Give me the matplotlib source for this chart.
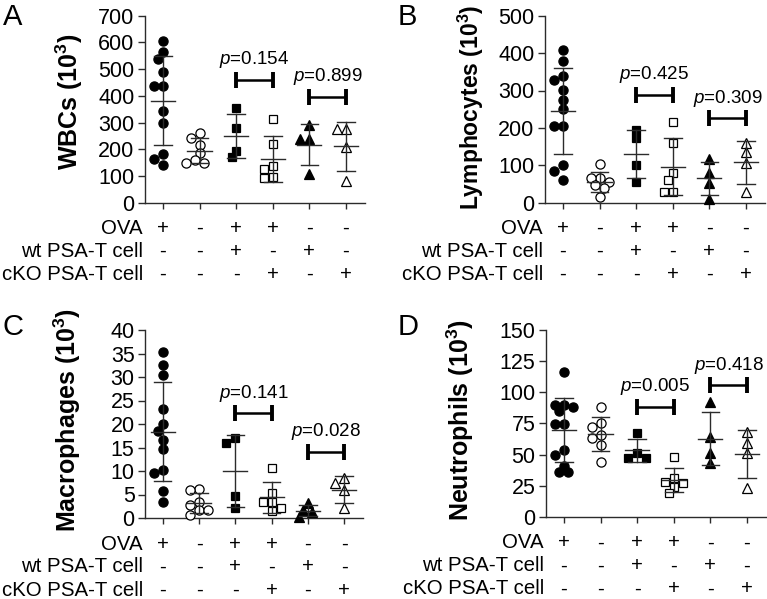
import numpy as np
import matplotlib
matplotlib.use("Agg")
import matplotlib.pyplot as plt

plt.rcParams['font.family'] = ['Liberation Sans', 'DejaVu Sans']
plt.rcParams['mathtext.fontset'] = 'custom'
plt.rcParams['mathtext.rm'] = 'Liberation Sans'
plt.rcParams['mathtext.it'] = 'Liberation Sans:italic'
plt.rcParams['mathtext.bf'] = 'Liberation Sans:bold'

# ---------------- data ----------------
wbc = [
    [604, 564, 537, 489, 437, 437, 345, 300, 183, 164, 141],
    [262, 241, 216, 185, 160, 150, 150],
    [354, 279, 195, 170],
    [313, 219, 138, 126, 95, 92],
    [289, 238, 238, 106],
    [276, 276, 210, 81],
]
lymph = [
    [408, 379, 339, 328, 301, 275, 250, 205, 205, 101, 86, 62],
    [103, 65, 65, 55, 47, 38, 16],
    [194, 172, 101, 56],
    [217, 160, 79, 61, 29, 29],
    [116, 80, 54, 9],
    [160, 136, 107, 29],
]
macro = [
    [35.4, 32.6, 30.4, 23.1, 20.1, 18.5, 16.6, 14.6, 10.2, 9.6, 5.7, 3.4],
    [6.2, 5.9, 3.5, 2.8, 1.7, 1.7, 0.6],
    [17.0, 16.0, 4.7, 2.1],
    [10.7, 5.3, 3.3, 3.3, 2.2, 1.5],
    [3.1, 1.7, 1.3, 0.2],
    [8.6, 7.4, 6.0, 2.1],
]
neut = [
    [116, 90, 90, 88, 85, 74.5, 74.5, 53.6, 50, 41, 36, 36],
    [88, 75, 72, 66, 63, 58, 44],
    [67, 51, 47.5, 47.5],
    [48, 31, 28, 27, 24, 19],
    [92, 64, 51, 43.5],
    [68, 59, 51, 23],
]

pvals = {'A': [0.154, 0.899], 'B': [0.425, 0.309], 'C': [0.141, 0.028], 'D': [0.005, 0.418]}
pbar_y = {'A': [460, 397], 'B': [288, 226], 'C': [22.3, 14.1], 'D': [88.4, 105.8]}
pbar_pairs = [(2, 3), (4, 5)]

row_names = ['OVA', 'wt PSA-T cell', 'cKO PSA-T cell']
row_ova = ['+', '-', '+', '+', '-', '-']
row_wt = ['-', '-', '+', '-', '+', '-']
row_cko = ['-', '-', '-', '+', '-', '+']

ylabels = {'A': 'WBCs', 'B': 'Lymphocytes', 'C': 'Macrophages', 'D': 'Neutrophils'}
ylims = {'A': 700, 'B': 500, 'C': 40, 'D': 150}
ysteps = {'A': 100, 'B': 100, 'C': 5, 'D': 25}
panel_data = {'A': wbc, 'B': lymph, 'C': macro, 'D': neut}

# ---------------- styling / layout ----------------
W, H = 767, 599
fig = plt.figure(figsize=(W / 100, H / 100), dpi=100)

# axes boxes in pixels: left, right, top(y of max), bottom(y of 0)
boxes = {'A': (145, 365, 15.7, 202.7), 'B': (545, 765, 15.7, 202.7),
         'C': (145, 363, 330, 518), 'D': (546, 766, 330, 516.8)}
ylabel_pos = {'A': (69, 102), 'B': (471, 107), 'C': (67, 420), 'D': (460, 420)}
ylabel_fs = {'A': 18, 'B': 16.5, 'C': 18, 'D': 18}
letter_pos = {'A': (3, 3), 'B': (398, 3), 'C': (2, 313), 'D': (398, 313)}

styles = [('o', 'black'), ('o', 'white'), ('s', 'black'), ('s', 'white'), ('^', 'black'), ('^', 'white')]
msizes = [6.6, 6.6, 6.0, 6.0, 6.8, 6.8]
axcol = '#2b2b2b'
FS_TICK = 15.5
FS_ROW = 14.7
DPX = 9.0


def swarm_x(ax, x0, vals, dpx):
    tr = ax.transData
    inv = tr.inverted()
    placed = []
    xs = []
    order = [0]
    for k in range(1, 8):
        order += [-k, k]
    step = dpx * 0.5
    for v in vals:
        px0, py = tr.transform((x0, v))
        px = px0
        for k in order:
            cand = px0 + k * step
            if all((cand - qx) ** 2 + (py - qy) ** 2 >= (dpx * 0.85) ** 2 for qx, qy in placed):
                px = cand
                break
        placed.append((px, py))
        xs.append(inv.transform((px, py))[0])
    return xs


for key in ['A', 'B', 'C', 'D']:
    l, r, t, b = boxes[key]
    ax = fig.add_axes([l / W, 1 - b / H, (r - l) / W, (b - t) / H])
    ax.set_xlim(-0.49, 5.52)
    ax.set_ylim(0, ylims[key])
    ax.set_yticks(np.arange(0, ylims[key] + 0.001, ysteps[key]))
    ax.set_xticks(range(6))
    ax.set_xticklabels([])
    for s in ['top', 'right']:
        ax.spines[s].set_visible(False)
    for s in ['left', 'bottom']:
        ax.spines[s].set_color(axcol)
        ax.spines[s].set_linewidth(1.0)
    ax.tick_params(axis='y', length=5, width=1.0, color=axcol, labelsize=FS_TICK, pad=2.5)
    ax.tick_params(axis='x', length=4.5, width=1.0, color=axcol)
    ax.patch.set_alpha(0)

    data = panel_data[key]
    for i, vals in enumerate(data):
        arr = np.array(vals, dtype=float)
        m = arr.mean()
        sd = arr.std(ddof=1)
        # error bars (mean +/- SD), drawn over the markers
        ax.plot([i, i], [m - sd, m + sd], color=axcol, lw=1.0, zorder=5)
        ax.plot([i - 0.24, i + 0.24], [m + sd, m + sd], color=axcol, lw=1.0, zorder=5)
        ax.plot([i - 0.24, i + 0.24], [m - sd, m - sd], color=axcol, lw=1.0, zorder=5)
        ax.plot([i - 0.33, i + 0.33], [m, m], color=axcol, lw=1.0, zorder=5)
        xs = swarm_x(ax, i, vals, DPX)
        mk, fc = styles[i]
        ax.plot(xs, vals, ls='', marker=mk, ms=msizes[i], mfc=fc, mec='black',
                mew=0.9, zorder=4, clip_on=False)

    # p-value brackets
    for (a, bb), yv, pv in zip(pbar_pairs, pbar_y[key], pvals[key]):
        ax.plot([a, bb], [yv, yv], color='black', lw=1.8, zorder=6, solid_capstyle='butt')
        ax.plot([a, bb], [yv, yv], ls='', marker='|', ms=12, mew=2.8, color='black', zorder=6)
        ax.annotate(r'$\it{p}$=%.3f' % pv, xy=((a + bb) / 2, yv), xytext=(0, 20),
                    textcoords='offset pixels', ha='center', va='center', fontsize=13.5)

    # condition rows
    rows = [row_ova, row_wt, row_cko]
    offs = [-26, -49, -72]
    for name, row, off in zip(row_names, rows, offs):
        ax.annotate(name, xy=(0, 0), xycoords='axes fraction', xytext=(-2, off),
                    textcoords='offset pixels', ha='right', va='center', fontsize=FS_ROW,
                    annotation_clip=False)
        for i, sym in enumerate(row):
            ax.annotate(sym, xy=(i, 0), xycoords=('data', 'axes fraction'), xytext=(0, off),
                        textcoords='offset pixels', ha='center', va='center', fontsize=FS_ROW,
                        annotation_clip=False)

    lx, ly = ylabel_pos[key]
    fig.text(lx / W, 1 - ly / H, ylabels[key] + r' (10$^{\mathbf{3}}$)', rotation=90,
             ha='center', va='center', fontsize=ylabel_fs[key], fontweight='bold')
    px, py = letter_pos[key]
    fig.text(px / W, 1 - py / H, key, ha='left', va='top', fontsize=21)

fig.savefig('out.png', dpi=100)
